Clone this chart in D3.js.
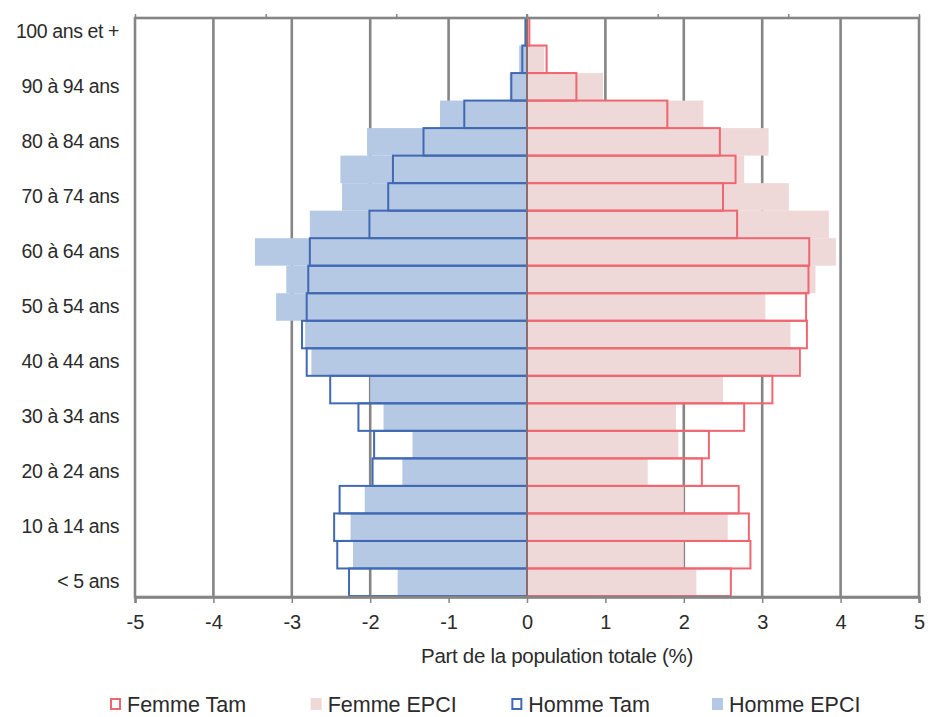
<!DOCTYPE html>
<html>
<head>
<meta charset="utf-8">
<script src="https://cdn.jsdelivr.net/npm/d3@7/dist/d3.min.js"></script>
<style>
  html, body { margin: 0; padding: 0; background: #fff; }
  svg { display: block; font-family: "Liberation Sans", Arial, sans-serif; }
</style>
</head>
<body>
<svg id="chart" width="931" height="717"></svg>
<script>
// Age groups, oldest first (top to bottom)
const categories = [
  "100 ans et +", "95 à 99 ans", "90 à 94 ans", "85 à 89 ans", "80 à 84 ans",
  "75 à 79 ans", "70 à 74 ans", "65 à 69 ans", "60 à 64 ans", "55 à 59 ans",
  "50 à 54 ans", "45 à 49 ans", "40 à 44 ans", "35 à 39 ans", "30 à 34 ans",
  "25 à 29 ans", "20 à 24 ans", "15 à 19 ans", "10 à 14 ans", "5 à 9 ans", "< 5 ans"
];
const shownLabels = [
  "100 ans et +", "90 à 94 ans", "80 à 84 ans", "70 à 74 ans", "60 à 64 ans",
  "50 à 54 ans", "40 à 44 ans", "30 à 34 ans", "20 à 24 ans", "10 à 14 ans", "< 5 ans"
];
// Shares of total population (%), same order as categories
const hommeTam  = [0.02, 0.06, 0.20, 0.80, 1.32, 1.71, 1.77, 2.01, 2.77, 2.79, 2.81, 2.87, 2.81, 2.51, 2.15, 1.95, 1.97, 2.39, 2.46, 2.42, 2.27];
const hommeEPCI = [0.02, 0.10, 0.22, 1.11, 2.04, 2.38, 2.36, 2.77, 3.47, 3.07, 3.20, 2.83, 2.75, 2.00, 1.83, 1.46, 1.59, 2.07, 2.25, 2.22, 1.65];
const femmeTam  = [0.03, 0.25, 0.63, 1.79, 2.46, 2.66, 2.50, 2.68, 3.60, 3.59, 3.56, 3.57, 3.48, 3.13, 2.77, 2.32, 2.23, 2.70, 2.83, 2.85, 2.60];
const femmeEPCI = [0.02, 0.22, 0.97, 2.25, 3.08, 2.77, 3.34, 3.85, 3.94, 3.68, 3.04, 3.36, 3.46, 2.50, 1.90, 1.93, 1.54, 2.00, 2.56, 2.00, 2.16];
const xTicks = [-5, -4, -3, -2, -1, 0, 1, 2, 3, 4, 5];
const gridValues = [-4, -3, -2, -1, 1, 2, 3, 4];
const topTicks = [-5, -3.333, -1.667, 0, 1.667, 3.333, 5];
const legendItems = ["Femme Tam", "Femme EPCI", "Homme Tam", "Homme EPCI"];

const C = {
  femmeLine: "#ef6670", femmeFill: "#efd8d8",
  hommeLine: "#4169b3", hommeFill: "#b5c9e5",
  grid: "#858585", text: "#2b2b2b"
};

const svg = d3.select("#chart");
const L = 135, R = 919, T = 18, B = 597;

const x = d3.scaleLinear().domain([-5, 5]).range([L, R]);
const y = d3.scaleBand().domain(categories).range([T, B - 1]).padding(0);

// gridlines
svg.append("g").selectAll("line").data(gridValues).join("line")
  .attr("x1", d => x(d)).attr("x2", d => x(d))
  .attr("y1", T).attr("y2", B)
  .attr("stroke", C.grid).attr("stroke-width", 2.6);

const rows = categories.map((c, i) => ({
  c, hT: hommeTam[i], hE: hommeEPCI[i], fT: femmeTam[i], fE: femmeEPCI[i]
}));

// EPCI filled bars
svg.append("g").selectAll("rect").data(rows).join("rect")
  .attr("x", d => x(-d.hE)).attr("width", d => x(0) - x(-d.hE))
  .attr("y", d => y(d.c)).attr("height", y.bandwidth())
  .attr("fill", C.hommeFill);
svg.append("g").selectAll("rect").data(rows).join("rect")
  .attr("x", x(0)).attr("width", d => x(d.fE) - x(0))
  .attr("y", d => y(d.c)).attr("height", y.bandwidth())
  .attr("fill", C.femmeFill);

// Tam outline bars
svg.append("g").selectAll("rect").data(rows).join("rect")
  .attr("x", d => x(-d.hT)).attr("width", d => x(0) - x(-d.hT))
  .attr("y", d => y(d.c)).attr("height", y.bandwidth())
  .attr("fill", "none").attr("stroke", C.hommeLine).attr("stroke-width", 2);
svg.append("g").selectAll("rect").data(rows).join("rect")
  .attr("x", x(0)).attr("width", d => x(d.fT) - x(0))
  .attr("y", d => y(d.c)).attr("height", y.bandwidth())
  .attr("fill", "none").attr("stroke", C.femmeLine).attr("stroke-width", 2);

// center line
svg.append("line")
  .attr("x1", x(0)).attr("x2", x(0)).attr("y1", T - 4).attr("y2", B)
  .attr("stroke", "#6f6f6f").attr("stroke-width", 1.6);

// plot frame
svg.append("rect")
  .attr("x", L).attr("y", T).attr("width", R - L).attr("height", B - T)
  .attr("fill", "none").attr("stroke", C.grid).attr("stroke-width", 2.6);

// top axis (ticks only)
const topAxis = svg.append("g").attr("transform", `translate(0,${T})`)
  .call(d3.axisTop(x).tickValues(topTicks).tickSize(4).tickFormat(""));
topAxis.select(".domain").remove();
topAxis.selectAll("line").attr("stroke", C.grid).attr("stroke-width", 1.5);

// bottom axis
const bottomAxis = svg.append("g").attr("transform", `translate(0,${B})`)
  .call(d3.axisBottom(x).tickValues(xTicks).tickSize(6).tickPadding(12).tickFormat(d => String(d)));
bottomAxis.select(".domain").attr("stroke", C.grid).attr("stroke-width", 2.6);
bottomAxis.selectAll("line").attr("stroke", C.grid).attr("stroke-width", 1.5);
bottomAxis.selectAll("text")
  .attr("font-size", 20).attr("fill", C.text)
  .attr("font-family", "Liberation Sans, Arial, sans-serif");

// left axis labels
const leftAxis = svg.append("g").attr("transform", `translate(${L},0)`)
  .call(d3.axisLeft(y).tickValues(shownLabels).tickSize(0).tickPadding(16));
leftAxis.select(".domain").remove();
leftAxis.selectAll("text")
  .attr("font-size", 19.5).attr("fill", C.text)
  .attr("letter-spacing", "-0.4px")
  .attr("font-family", "Liberation Sans, Arial, sans-serif");

// axis title
svg.append("text")
  .attr("x", 557).attr("y", 663)
  .attr("text-anchor", "middle")
  .attr("font-size", 20.5).attr("fill", C.text)
  .attr("letter-spacing", "-0.3px")
  .text("Part de la population totale (%)");

// legend
const legendX = d3.scalePoint().domain(legendItems).range([110, 712]);
const lg = svg.append("g").selectAll("g").data(legendItems).join("g")
  .attr("transform", d => `translate(${legendX(d)},704)`);
lg.append("rect")
  .attr("x", d => d.endsWith("Tam") ? 1 : 0)
  .attr("y", d => d.endsWith("Tam") ? -5 : -6)
  .attr("width", d => d.endsWith("Tam") ? 9 : 11)
  .attr("height", d => d.endsWith("Tam") ? 10 : 12)
  .attr("fill", d => d === "Femme EPCI" ? C.femmeFill : d === "Homme EPCI" ? C.hommeFill : "#fff")
  .attr("stroke", d => d === "Femme Tam" ? C.femmeLine : d === "Homme Tam" ? C.hommeLine : "none")
  .attr("stroke-width", 2);
lg.append("text")
  .attr("x", 17).attr("y", 7.5)
  .attr("font-size", 21.5).attr("fill", C.text)
  .text(d => d);
</script>
</body>
</html>
